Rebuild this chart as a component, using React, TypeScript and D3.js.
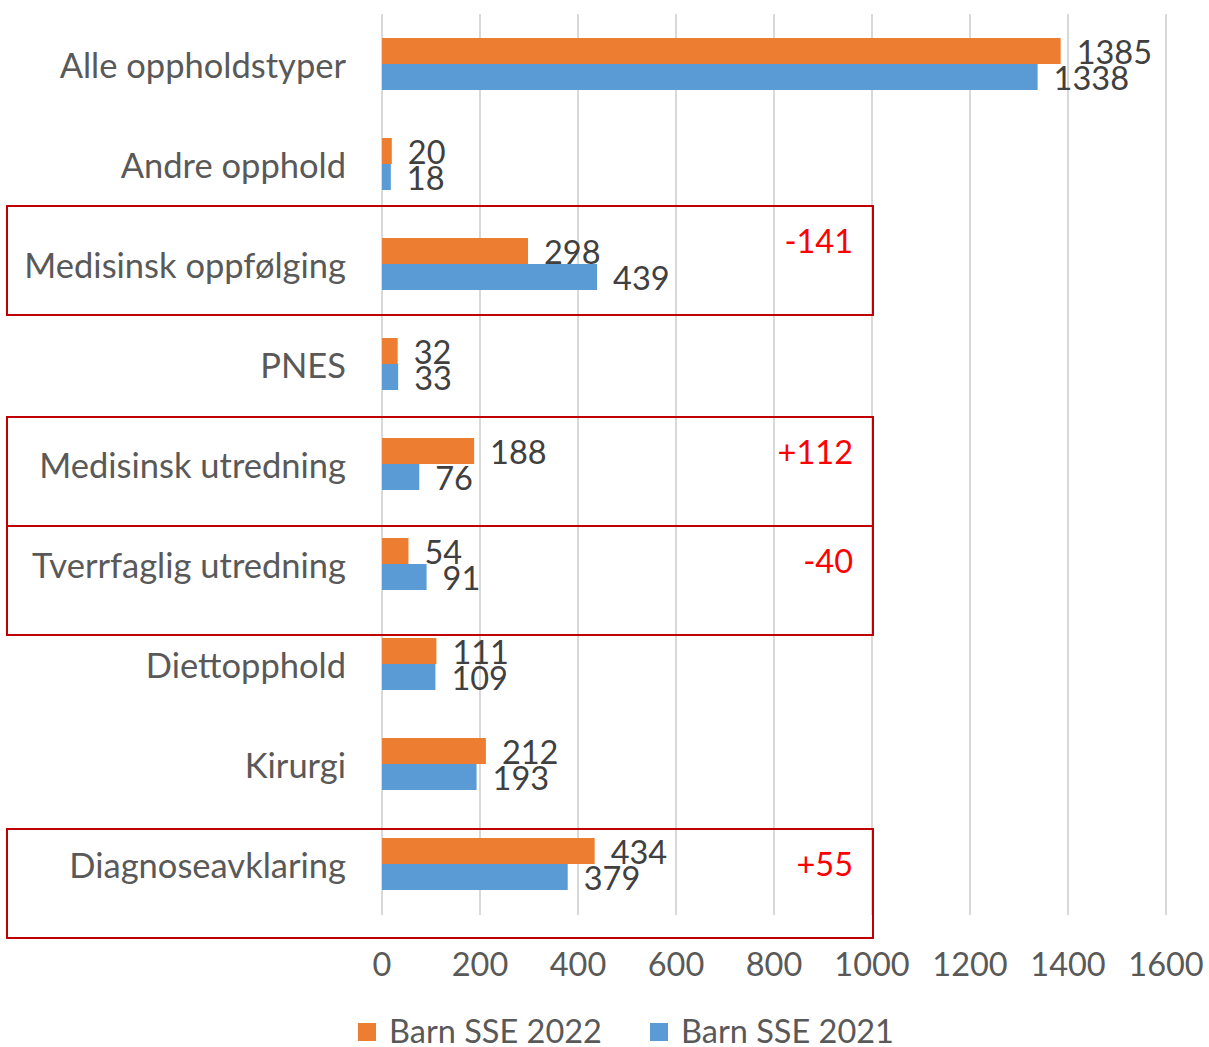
import React, { useEffect, useRef } from "react";
import * as d3 from "d3";

const categories = [
  "Alle oppholdstyper",
  "Andre opphold",
  "Medisinsk oppfølging",
  "PNES",
  "Medisinsk utredning",
  "Tverrfaglig utredning",
  "Diettopphold",
  "Kirurgi",
  "Diagnoseavklaring",
];
const values2022 = [1385, 20, 298, 32, 188, 54, 111, 212, 434];
const values2021 = [1338, 18, 439, 33, 76, 91, 109, 193, 379];
const ticks = [0, 200, 400, 600, 800, 1000, 1200, 1400, 1600];
const seriesNames = ["Barn SSE 2022", "Barn SSE 2021"];

// highlighted rows and their change labels
const highlights = [
  { cat: "Medisinsk oppfølging", text: "-141", shift: -7 },
  { cat: "Medisinsk utredning", text: "+112", shift: 4 },
  { cat: "Tverrfaglig utredning", text: "-40", shift: 13 },
  { cat: "Diagnoseavklaring", text: "+55", shift: 16 },
];

const W = 1209;
const H = 1047;
const FONT = "Lato, 'Open Sans', sans-serif";
const NUM_SIZE = 32.5;

const App = () => {
  const svgRef = useRef<SVGSVGElement>(null);

  useEffect(() => {
    const svg = d3.select(svgRef.current);
    svg.selectAll("*").remove();

    const x = d3.scaleLinear().domain([0, 1600]).range([382, 1166]);
    const y = d3.scaleBand().domain(categories).range([14, 914]);
    const barH = 26;
    const colors = ["#ED7D31", "#5B9BD5"];

    // grid
    svg
      .append("g")
      .selectAll("line")
      .data(ticks)
      .join("line")
      .attr("x1", (d) => x(d))
      .attr("x2", (d) => x(d))
      .attr("y1", 14)
      .attr("y2", 915)
      .attr("stroke", "#d9d9d9")
      .attr("stroke-width", 2);

    // tick labels
    svg
      .append("g")
      .selectAll("text")
      .data(ticks)
      .join("text")
      .attr("x", (d) => x(d))
      .attr("y", 963)
      .attr("text-anchor", "middle")
      .attr("dominant-baseline", "central")
      .attr("font-family", FONT)
      .attr("font-size", NUM_SIZE)
      .attr("fill", "#595959")
      .text((d) => d);

    // category labels
    svg
      .append("g")
      .selectAll("text")
      .data(categories)
      .join("text")
      .attr("x", 346)
      .attr("y", (d) => y(d)! + y.bandwidth() / 2)
      .attr("text-anchor", "end")
      .attr("dominant-baseline", "central")
      .attr("font-family", FONT)
      .attr("font-size", 34.5)
      .attr("fill", "#595959")
      .text((d) => d);

    const series = [values2022, values2021];
    series.forEach((vals, si) => {
      const g = svg.append("g");
      const rows = categories.map((c, i) => ({ c, v: vals[i] }));
      const yTop = (c: string) =>
        y(c)! + y.bandwidth() / 2 - barH + si * barH;
      g.selectAll("rect")
        .data(rows)
        .join("rect")
        .attr("x", x(0))
        .attr("y", (d) => yTop(d.c))
        .attr("width", (d) => x(d.v) - x(0))
        .attr("height", barH)
        .attr("fill", colors[si]);
      g.selectAll("text")
        .data(rows)
        .join("text")
        .attr("x", (d) => x(d.v) + 16)
        .attr("y", (d) => yTop(d.c) + barH / 2)
        .attr("dominant-baseline", "central")
        .attr("font-family", FONT)
        .attr("font-size", NUM_SIZE)
        .attr("fill", "#404040")
        .text((d) => d.v);
    });

    // highlight boxes
    const boxH = 109;
    const hb = svg.append("g");
    highlights.forEach((h) => {
      const top = y(h.cat)! + h.shift - 1;
      hb.append("rect")
        .attr("x", 7)
        .attr("y", top)
        .attr("width", x(1000) - 7 + 1)
        .attr("height", boxH)
        .attr("fill", "none")
        .attr("stroke", "#C00000")
        .attr("stroke-width", 2);
      hb.append("text")
        .attr("x", x(1000) - 19)
        .attr("y", top + 34)
        .attr("text-anchor", "end")
        .attr("dominant-baseline", "central")
        .attr("font-family", FONT)
        .attr("font-size", NUM_SIZE)
        .attr("fill", "#FF0000")
        .text(h.text);
    });

    // legend
    const legendX = [358, 650];
    seriesNames.forEach((name, i) => {
      svg
        .append("rect")
        .attr("x", legendX[i])
        .attr("y", 1023)
        .attr("width", 18)
        .attr("height", 18)
        .attr("fill", colors[i]);
      svg
        .append("text")
        .attr("x", legendX[i] + 31)
        .attr("y", 1030)
        .attr("dominant-baseline", "central")
        .attr("font-family", FONT)
        .attr("font-size", NUM_SIZE)
        .attr("fill", "#595959")
        .text(name);
    });
  }, []);

  return (
    <svg
      ref={svgRef}
      width={W}
      height={H}
      style={{ position: "absolute", left: 0, top: 0, background: "#fff" }}
    ></svg>
  );
};

export default App;
